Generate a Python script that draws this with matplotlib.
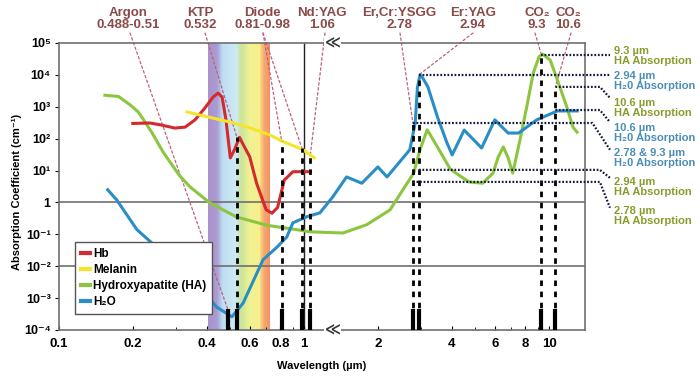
import numpy as np
import matplotlib.pyplot as plt
from matplotlib.colors import LinearSegmentedColormap
from matplotlib.ticker import NullFormatter, LogLocator

plt.rcParams['font.family'] = ['Liberation Sans', 'DejaVu Sans']
plt.rcParams['font.weight'] = 'bold'

# absorption curves (wavelength in um, absorption in cm^-1)
hb_um = [0.2, 0.235, 0.26, 0.297, 0.327, 0.359, 0.394, 0.425, 0.446, 0.463, 0.48,
         0.50, 0.52, 0.545, 0.56, 0.60, 0.64, 0.70, 0.74, 0.78, 0.83, 0.90, 1.06]
hb_abs = [300, 310, 270, 215, 230, 390, 920, 2000, 2700, 2000, 390,
          25, 45, 110, 73, 27, 4, 0.59, 0.46, 0.7, 5, 9.2, 9.2]

mel_um = [0.333, 0.376, 0.5, 0.6, 0.726, 0.81, 0.99, 1.1]
mel_abs = [690, 550, 330, 220, 130, 85, 45, 25]

ha_um = [0.154, 0.175, 0.195, 0.21, 0.22, 0.24, 0.266, 0.31, 0.342, 0.41, 0.53, 0.71,
         0.88, 1.06, 1.44, 1.8, 2.24, 2.53, 2.8, 2.97, 3.18, 3.5, 3.95, 4.7,
         5.35, 5.9, 6.2, 6.5, 6.8, 7.1, 7.6, 8.1, 8.6, 9.1, 9.4, 10.1, 10.7,
         11.8, 12.5, 13.0]
ha_abs = [2300, 2100, 1150, 700, 420, 150, 38, 7, 3.1, 1.0, 0.35, 0.19,
          0.15, 0.12, 0.11, 0.2, 0.58, 2.5, 8.3, 45, 190, 55, 11, 4.4,
          4.0, 8.3, 27, 55, 25, 8.3, 91, 1000, 11000, 38000, 45000, 29000, 8500,
          990, 230, 160]

h2o_um = [0.158, 0.172, 0.208, 0.258, 0.342, 0.44, 0.508, 0.564, 0.68, 0.776,
          0.85, 0.90, 1.03, 1.16, 1.31, 1.49, 1.72, 2.0, 2.18, 2.7, 2.84, 2.9,
          2.97, 3.05, 3.2, 3.5, 3.83, 4.02, 4.5, 5.3, 6.0, 6.8, 7.5, 8.9, 10.8, 13.0]
h2o_abs = [2.5, 1.2, 0.14, 0.032, 0.0055, 5.2e-4, 2.6e-4, 7e-4, 0.016, 0.04,
           0.083, 0.23, 0.36, 0.47, 1.5, 6.3, 4.0, 13, 6.3, 45, 310, 4000,
           10000, 8000, 4200, 480, 73, 31, 186, 51, 390, 150, 150, 390, 740, 740]

# laser lines: wavelength, top of dashed line (0 = bar only)
laser_um = [0.488, 0.532, 0.81, 0.98, 1.06, 2.78, 2.94, 9.3, 10.6]
laser_top = [0, 110, 85, 50, 30, 300, 10000, 42000, 4200]

laser_names = ['Argon\n0.488-0.51', 'KTP\n0.532', 'Diode\n0.81-0.98', 'Nd:YAG\n1.06',
               'Er,Cr:YSGG\n2.78', 'Er:YAG\n2.94', 'CO₂\n9.3', 'CO₂\n10.6']
name_px = [128, 200, 262, 322, 399, 473, 537, 568]
# targets of the pink leader lines (um, cm^-1)
leader_um = [[0.488], [0.532], [0.81, 0.98], [1.06], [2.78], [2.94], [9.3], [10.6]]
leader_abs = [[4.5e-4], [110], [85, 50], [30], [300], [10000], [42000], [4200]]
leader_px = [130, 205, 263, 325, 400, 473, 535, 571]

# dotted callouts on the right: start um, level, level at end
call_um = [9.3, 2.94, 10.6, 10.6, 2.78, 2.94, 2.78]
call_abs = [42000, 10000, 4200, 790, 310, 10.5, 4.4]
call_end = [42000, 10000, 1900, 330, 45, 5.9, 0.68]
call_bend = [17.7, 17.7, 16.1, 16.1, 15.0, 16.1, 16.1]
call_text = ['9.3 µm\nHA Absorption', '2.94 µm\nH₂0 Absorption', '10.6 µm\nHA Absorption',
             '10.6 µm\nH₂0 Absorption', '2.78 & 9.3 µm\nH₂0 Absorption',
             '2.94 µm\nHA Absorption', '2.78 µm\nHA Absorption']
call_is_ha = [True, False, True, False, False, True, True]
call_text_px = [55.5, 81, 108.5, 133.5, 158.5, 187.5, 216.5]

# visible spectrum band
band_um = [0.405, 0.44, 0.465, 0.53, 0.555, 0.60, 0.66, 0.685, 0.725]
band_col = ['#ab92cb', '#a99cd2', '#bfdef2', '#cde9f2', '#cbe396', '#eef294',
            '#f8ee8a', '#f6ac70', '#f29266']

W, H = 700, 382
fig = plt.figure(figsize=(7, 3.82), dpi=100)
ax = fig.add_axes([59 / W, 1 - 330 / H, 526 / W, 287 / H])
ax.set_xscale('log')
ax.set_yscale('log')
ax.set_xlim(0.1, 14)
ax.set_ylim(1e-4, 1e5)

# spectrum
lb = np.log(band_um)
pos = (lb - lb[0]) / (lb[-1] - lb[0])
cmap = LinearSegmentedColormap.from_list('spec', list(zip(pos, band_col)))
edges = np.geomspace(band_um[0], band_um[-1], 80)
vals = np.linspace(0, 1, len(edges) - 1)[None, :]
ax.pcolormesh(edges, [1e-4, 1e5], vals, cmap=cmap, shading='flat', zorder=0)

# grid lines
for yv in [1, 1e-2]:
    ax.axhline(yv, color='#6f6f6f', lw=1.2, zorder=1)
ax.axvline(1.0, color='#222222', lw=1.0, zorder=1)

# curves
ax.plot(hb_um, hb_abs, color='#d42a2f', lw=2.2, label='Hb', zorder=4)
ax.plot(mel_um, mel_abs, color='#f5e52a', lw=2.2, label='Melanin', zorder=4)
ax.plot(ha_um, ha_abs, color='#8cc63e', lw=2.2, label='Hydroxyapatite (HA)', zorder=3)
ax.plot(h2o_um, h2o_abs, color='#2a8dc5', lw=2.2, label='H₂O', zorder=3)

# laser lines
for x, top in zip(laser_um, laser_top):
    ax.plot([x, x], [1e-4, 4.5e-4], color='black', lw=3, solid_capstyle='butt', zorder=5)
    if top > 0:
        ax.plot([x, x], [1e-4, top], color='black', lw=2, ls=(0, (2, 2)), zorder=5)

# dotted callouts
for x0, y0, y1, xb, ha in zip(call_um, call_abs, call_end, call_bend, call_is_ha):
    ax.plot([x0, xb, 17.7], [y0, y0, y1], color='#151b3a', lw=1.6, ls=(0, (0.8, 0.8)),
            clip_on=False, zorder=5)

for txt, ypx, ha in zip(call_text, call_text_px, call_is_ha):
    fig.text(614 / W, 1 - ypx / H, txt, color='#8a9a2c' if ha else '#4a8db5',
             fontsize=8, fontweight='bold', ha='left', va='center', linespacing=1.0)

# laser names and pink leaders
for name, cx, lx, tx, ty in zip(laser_names, name_px, leader_px, leader_um, leader_abs):
    fig.text(cx / W, 1 - 19 / H, name, color='#8b4a4a', fontsize=9.5,
             fontweight='bold', ha='center', va='center', linespacing=1.0)
    for a, b in zip(tx, ty):
        ax.annotate('', xy=(a, b), xycoords='data', xytext=(lx / W, 1 - 33 / H),
                    textcoords='figure fraction',
                    arrowprops=dict(arrowstyle='-', color='#c0607e', lw=0.9,
                                    ls=(0, (2, 2)), shrinkA=0, shrinkB=0),
                    zorder=2)

# axis break marks
for yv in [1e5, 1e-4]:
    ax.text(1.31, yv, '≪', fontsize=11, ha='center', va='center', color='#333333',
            bbox=dict(fc='white', ec='none', pad=0.3), clip_on=False, zorder=7)

# ticks
xt = [0.1, 0.2, 0.4, 0.6, 0.8, 1, 2, 4, 6, 8, 10]
ax.set_xticks(xt)
ax.set_xticklabels(['0.1', '0.2', '0.4', '0.6', '0.8', '1', '2', '4', '6', '8', '10'])
ax.xaxis.set_minor_locator(LogLocator(subs=np.arange(2, 10)))
ax.xaxis.set_minor_formatter(NullFormatter())
yt = [1e5, 1e4, 1e3, 1e2, 1e1, 1, 1e-1, 1e-2, 1e-3, 1e-4]
ax.set_yticks(yt)
ax.set_yticklabels(['10⁵', '10⁴', '10³', '10²', '10¹', '1', '10⁻¹', '10⁻²', '10⁻³', '10⁻⁴'])
ax.yaxis.set_minor_locator(plt.NullLocator())
ax.tick_params(axis='x', which='major', direction='in', length=3, labelsize=9.5, pad=6)
ax.tick_params(axis='x', which='minor', direction='in', length=2)
ax.tick_params(axis='y', direction='out', length=3, labelsize=9, pad=3)
for lab in ax.get_xticklabels() + ax.get_yticklabels():
    lab.set_fontweight('bold')

for s in ax.spines.values():
    s.set_color('#6f6f6f')
    s.set_linewidth(1.2)

fig.text(17 / W, 1 - 192 / H, 'Absorption Coefficient (cm⁻¹)', rotation=90,
         fontsize=8, fontweight='bold', ha='center', va='center')
fig.text(322 / W, 1 - 366 / H, 'Wavelength (µm)', fontsize=8, fontweight='bold',
         ha='center', va='center')

leg = ax.legend(loc='lower left', bbox_to_anchor=(0.02, 0.035), fontsize=8.5,
                handlelength=0.7, handletextpad=0.3, labelspacing=0.35,
                fancybox=False, edgecolor='#555555', framealpha=1, borderpad=0.5)
leg.set_zorder(8)
for t in leg.get_texts():
    t.set_fontweight('bold')
for l in leg.get_lines():
    l.set_linewidth(3)

fig.savefig('out.png', dpi=100)
